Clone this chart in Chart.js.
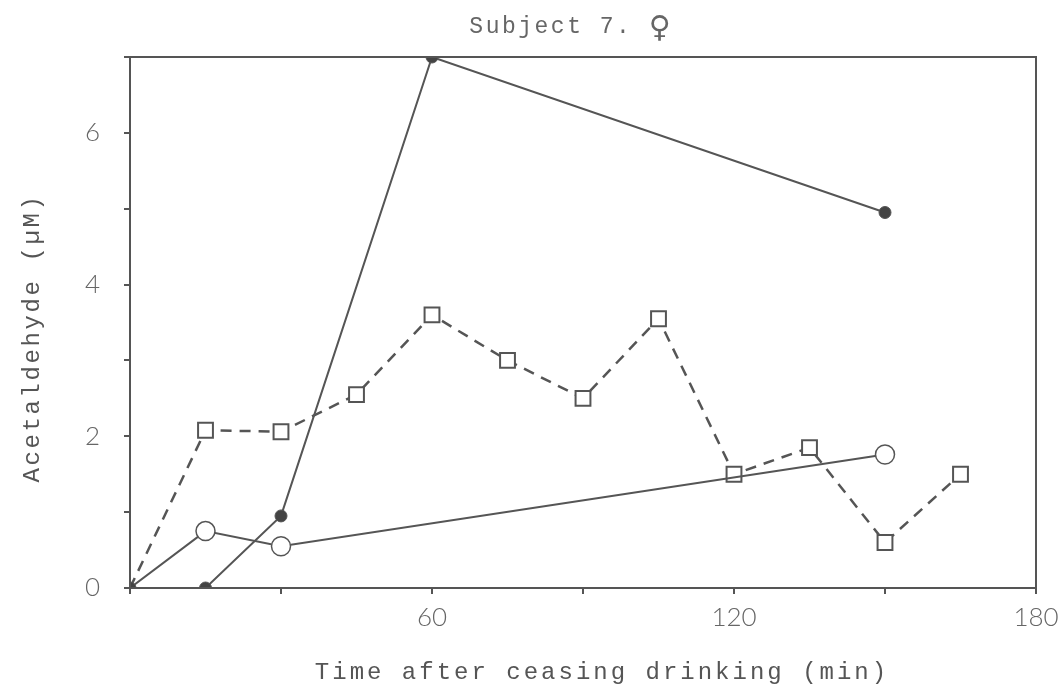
<!DOCTYPE html>
<html>
<head>
<meta charset="utf-8">
<script src="https://cdn.jsdelivr.net/npm/chart.js@4/dist/chart.umd.min.js"></script>
<style>
html,body{margin:0;padding:0;background:#fff;}
#wrap{width:1060px;height:699px;position:relative;}
</style>
</head>
<body>
<div id="wrap"><canvas id="c" width="1060" height="699"></canvas></div>
<script>
const titleText = 'Subject 7.';
const titleSymbol = '\u2640';
const xTitle = 'Time after ceasing drinking (min)';
const yTitle = 'Acetaldehyde (\u00b5M)';
const xLabeled = [60, 120, 180];
const yLabeled = [0, 2, 4, 6];

const filledX = [0, 15, 30, 60, 150];
const filledY = [0, 0, 0.95, 7.0, 4.95];

const openX = [0, 15, 30, 150];
const openY = [0, 0.75, 0.55, 1.76];

const squareX = [0, 15, 30, 45, 60, 75, 90, 105, 120, 135, 150, 165];
const squareY = [0, 2.08, 2.06, 2.55, 3.6, 3.0, 2.5, 3.55, 1.5, 1.85, 0.6, 1.5];

const ink = '#555';
const zip = (xs, ys) => xs.map((x, i) => ({x: x, y: ys[i]}));

const frame = {
  id: 'frame',
  afterDatasetsDraw(chart) {
    const a = chart.chartArea, ctx = chart.ctx;
    ctx.save();
    ctx.strokeStyle = ink;
    ctx.lineWidth = 2;
    ctx.strokeRect(a.left, a.top, a.right - a.left, a.bottom - a.top);
    ctx.restore();
  }
};

const typeTitles = {
  id: 'typeTitles',
  afterDraw(chart) {
    const ctx = chart.ctx;
    ctx.save();
    ctx.fillStyle = '#666';
    ctx.textBaseline = 'middle';
    ctx.font = '23px "Liberation Mono", monospace';
    ctx.letterSpacing = '2.5px';
    ctx.textAlign = 'left';
    const w1 = ctx.measureText(titleText + ' ').width;
    ctx.font = '30px "DejaVu Sans", sans-serif';
    ctx.letterSpacing = '0px';
    const w2 = ctx.measureText(titleSymbol).width;
    const startX = 570 - (w1 + w2) / 2;
    ctx.font = '23px "Liberation Mono", monospace';
    ctx.letterSpacing = '2.5px';
    ctx.fillText(titleText + ' ', startX, 27);
    ctx.font = '30px "DejaVu Sans", sans-serif';
    ctx.letterSpacing = '0px';
    ctx.fillText(titleSymbol, startX + w1, 29);
    ctx.fillStyle = '#555';
    ctx.font = '24px "Liberation Mono", monospace';
    ctx.letterSpacing = '3px';
    ctx.textAlign = 'center';
    ctx.fillText(xTitle, 602, 673);
    ctx.translate(33, 338);
    ctx.rotate(-Math.PI / 2);
    ctx.letterSpacing = '2.6px';
    ctx.fillText(yTitle, 0, 0);
    ctx.restore();
  }
};

new Chart(document.getElementById('c'), {
  type: 'scatter',
  data: {
    datasets: [
      {
        data: zip(squareX, squareY),
        showLine: true,
        borderColor: ink,
        borderWidth: 2.5,
        borderDash: [11, 8],
        pointStyle: 'rect',
        pointRadius: squareX.map((x, i) => i === 0 ? 0 : 10.5),
        pointBackgroundColor: '#fff',
        pointBorderColor: ink,
        pointBorderWidth: 2,
        order: 2
      },
      {
        data: zip(openX, openY),
        showLine: true,
        borderColor: ink,
        borderWidth: 2,
        pointStyle: 'circle',
        pointRadius: openX.map((x, i) => i === 0 ? 0 : 9.5),
        pointBackgroundColor: '#fff',
        pointBorderColor: ink,
        pointBorderWidth: 1.5,
        order: 1
      },
      {
        data: zip(filledX, filledY),
        showLine: true,
        borderColor: ink,
        borderWidth: 2,
        pointStyle: 'circle',
        pointRadius: 6,
        pointBackgroundColor: '#444',
        pointBorderColor: '#555',
        pointBorderWidth: 1,
        order: 0
      }
    ]
  },
  options: {
    responsive: false,
    animation: false,
    layout: {padding: {left: 0, right: 24, top: 57, bottom: 0}},
    plugins: {
      legend: {display: false},
      tooltip: {enabled: false},
      title: {display: false}
    },
    scales: {
      x: {
        type: 'linear',
        min: 0, max: 180,
        afterFit: s => { s.height = 111; s.paddingLeft = 0; s.paddingRight = 0; },
        ticks: {
          stepSize: 30,
          color: '#666',
          font: {family: 'Lato, "Open Sans", sans-serif', size: 26, weight: '300'},
          padding: 8,
          maxRotation: 0,
          callback: v => xLabeled.includes(v) ? String(v) : ''
        },
        grid: {display: true, drawOnChartArea: false, drawTicks: true, tickLength: 6, color: ink, lineWidth: 2},
        border: {display: true, color: ink, width: 2},
        title: {display: false}
      },
      y: {
        type: 'linear',
        min: 0, max: 7,
        afterFit: s => { s.width = 130; s.paddingTop = 0; s.paddingBottom = 0; },
        ticks: {
          stepSize: 1,
          color: '#666',
          font: {family: 'Lato, "Open Sans", sans-serif', size: 26, weight: '300'},
          padding: 24,
          callback: v => yLabeled.includes(v) ? String(v) : ''
        },
        grid: {display: true, drawOnChartArea: false, drawTicks: true, tickLength: 6, color: ink, lineWidth: 2},
        border: {display: true, color: ink, width: 2},
        title: {display: false}
      }
    }
  },
  plugins: [frame, typeTitles]
});
</script>
</body>
</html>
